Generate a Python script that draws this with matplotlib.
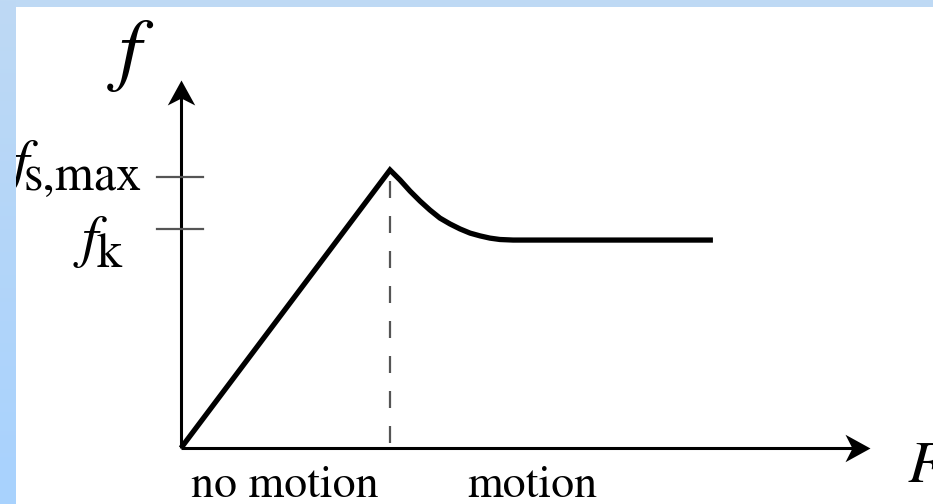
"""
Reibungskraft f über angelegter Kraft F: Haftreibung bis f_s,max, danach Gleitreibung f_k.
"""
import numpy as np
import matplotlib
matplotlib.use("Agg")
import matplotlib.pyplot as plt
from matplotlib.path import Path
from matplotlib.colors import LinearSegmentedColormap

# ── Daten (F in Einheiten von F_peak, f in Einheiten von f_s,max) ─────────────
F_vals = [0.0, 1.0, 1.048, 1.096, 1.144, 1.191, 1.239, 1.287, 1.335, 1.383,
          1.431, 1.478, 1.526, 1.589, 2.545]
f_vals = [0.0, 1.0, 0.964, 0.924, 0.888, 0.856, 0.827, 0.806, 0.788, 0.773,
          0.763, 0.755, 0.750, 0.748, 0.748]
F_peak = 1.0
dash_top = 0.960
tick_levels = [0.975, 0.788]
region_labels = ["no motion", "motion"]
region_pos = [0.05, 1.37]

SERIF = "STIXGeneral"
W, H = 933, 504

fig = plt.figure(figsize=(W / 100, H / 100), dpi=100)
fig.patch.set_facecolor("white")

ax = fig.add_axes([0, 0, 1, 1])
ax.set_xlim(-0.866, 3.598)
ax.set_ylim(-0.2014, 1.6115)
ax.axis("off")

# ── Achsen mit "Stealth"-Pfeilspitzen ─────────────────────────────────────────
head_x = Path([(0, 0), (-1, 0.55), (-0.72, 0), (-1, -0.55), (0, 0)],
              [Path.MOVETO, Path.LINETO, Path.LINETO, Path.LINETO, Path.CLOSEPOLY])
head_y = Path([(0, 0), (0.55, -1), (0, -0.72), (-0.55, -1), (0, 0)],
              [Path.MOVETO, Path.LINETO, Path.LINETO, Path.LINETO, Path.CLOSEPOLY])
x_tip, y_tip = 3.297, 1.324
ax.plot([0, x_tip - 0.05], [0, 0], color="black", lw=2.2, solid_capstyle="butt")
ax.plot([0, 0], [0, y_tip - 0.05], color="black", lw=2.2, solid_capstyle="butt")
ax.plot([x_tip], [0], marker=head_x, ms=36, color="black", mew=0)
ax.plot([0], [y_tip], marker=head_y, ms=36, color="black", mew=0)

# ── Kurve + gestrichelte Linie ───────────────────────────────────────────────
ax.plot(F_vals, f_vals, color="black", lw=3.8, solid_joinstyle="miter", solid_capstyle="butt")
ax.plot([F_peak, F_peak], [dash_top, 0], color="#555555", lw=1.6, dashes=(7.65, 8.1))

# ── Ticks an der f-Achse ──────────────────────────────────────────────────────
for lvl in tick_levels:
    ax.plot([-0.115, 0.105], [lvl, lvl], color="#555555", lw=1.6)

# ── Beschriftungen ───────────────────────────────────────────────────────────
ax.text(-0.244, 1.41, "f", fontsize=58, family=SERIF, style="italic", ha="center", va="center")
ax.text(3.478, -0.122, "F", fontsize=42, family=SERIF, style="italic", ha="left", va="baseline")

# f_s,max
ax.text(-0.765, 0.964, "f", fontsize=42, family=SERIF, style="italic", ha="center", va="baseline")
ax.text(-0.187, 0.928, "s,max", fontsize=36, family=SERIF, ha="right", va="baseline")
# f_k
ax.text(-0.435, 0.691, "f", fontsize=42, family=SERIF, style="italic", ha="center", va="baseline")
ax.text(-0.282, 0.651, "k", fontsize=36, family=SERIF, ha="right", va="baseline")

for lbl, x in zip(region_labels, region_pos):
    ax.text(x, -0.175, lbl, fontsize=33, family=SERIF, ha="left", va="baseline")

# ── Hellblauer Rahmen (links Verlauf, oben schmal) ────────────────────────────
ax_top = fig.add_axes([0, 1 - 7 / H, 1, 7 / H])
ax_top.set_facecolor("#BED9F4")
ax_top.set_xticks([]); ax_top.set_yticks([])
for s in ax_top.spines.values():
    s.set_visible(False)

ax_left = fig.add_axes([0, 0, 16 / W, 1])
grad = np.linspace(0, 1, 256).reshape(-1, 1)
cmap = LinearSegmentedColormap.from_list("rand", ["#BED9F4", "#A8D2FE"])
ax_left.imshow(grad, aspect="auto", cmap=cmap, extent=[0, 1, 0, 1], origin="upper")
ax_left.axis("off")

fig.savefig("out.png", dpi=100, facecolor="white")
